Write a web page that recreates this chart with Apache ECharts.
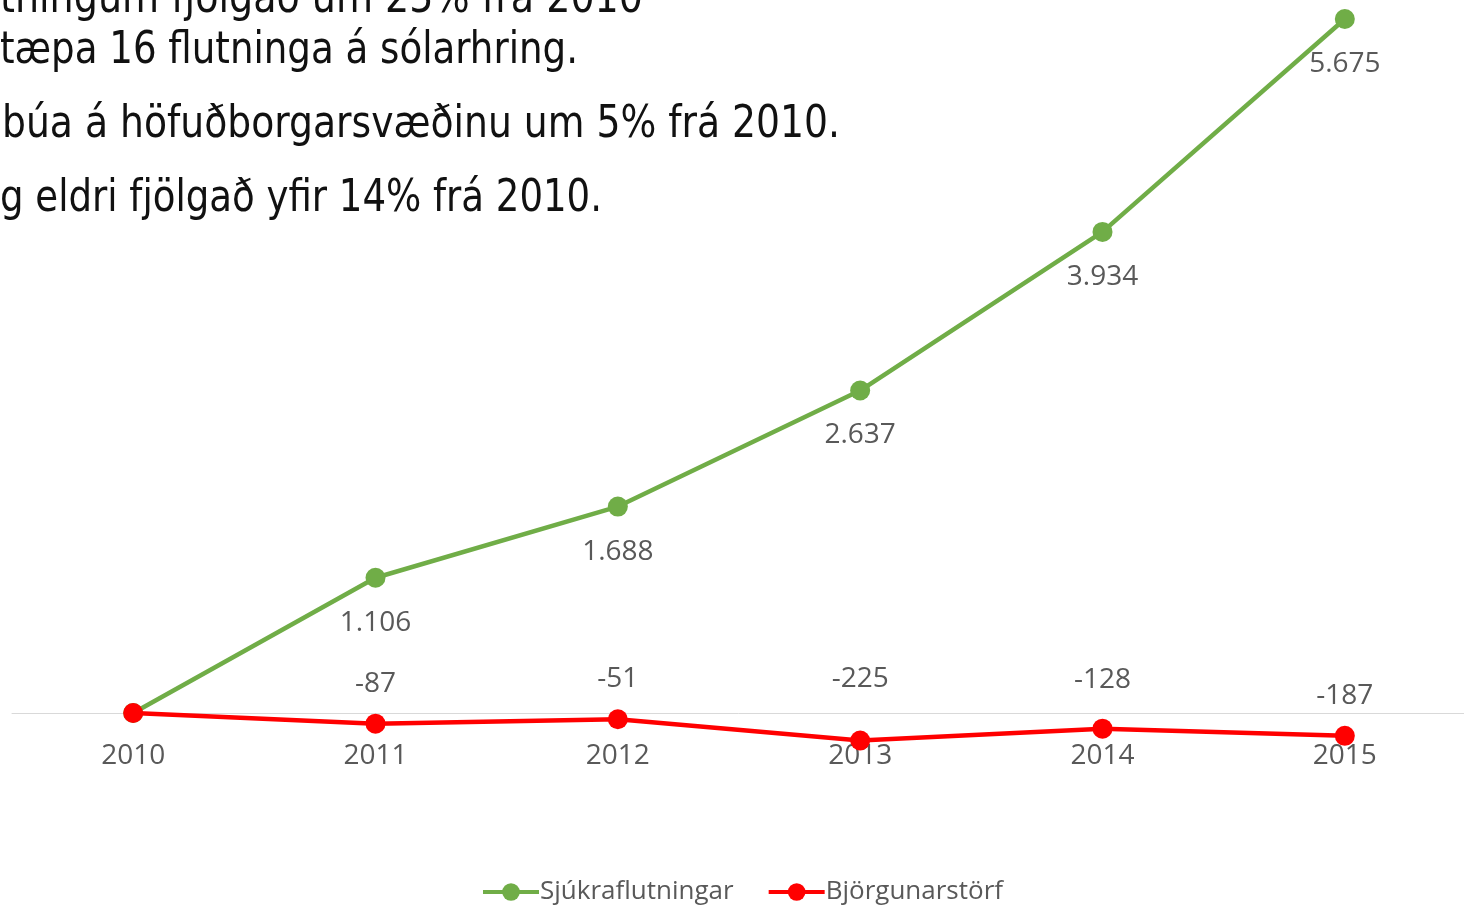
<!DOCTYPE html>
<html>
<head>
<meta charset="utf-8">
<script src="https://cdn.jsdelivr.net/npm/echarts@6/dist/echarts.min.js"></script>
<style>
  html, body { margin: 0; padding: 0; background: #fff; }
  #chart { width: 1464px; height: 906px; }
</style>
</head>
<body>
<div id="chart"></div>
<script>
const years = ['2010', '2011', '2012', '2013', '2014', '2015'];
const sjukraflutningar = [0, 1106, 1688, 2637, 3934, 5675];
const bjorgunarstorf = [0, -87, -51, -225, -128, -187];
const textLines = [
  'tningum fjölgað um 25% frá 2010',
  'tæpa 16 flutninga á sólarhring.',
  'búa á höfuðborgarsvæðinu um 5% frá 2010.',
  'g eldri fjölgað yfir 14% frá 2010.'
];

// thousands separator with a dot, like the original
const fmt = (v) => {
  const s = String(Math.abs(v)).replace(/\B(?=(\d{3})+(?!\d))/g, '.');
  return (v < 0 ? '-' : '') + s;
};

const labelFont = '"Open Sans", sans-serif';
const textFont = '"DejaVu Sans Condensed", "Liberation Sans Narrow", sans-serif';
const textSize = 44;
const textLeft = [0, 0, 2, 0];
const textRight = [643, 578, 840, 602];
const textMid = [1, 52, 126, 200];
// labels that were moved by hand in the original
const redNudge = { 3: -21, 4: -9 };

// squeeze the slide text to the width it has in the original
const ctx = document.createElement('canvas').getContext('2d');
ctx.font = textSize + 'px ' + textFont;
const textScale = textLines.map((t, i) => (textRight[i] - textLeft[i]) / ctx.measureText(t).width);

const chart = echarts.init(document.getElementById('chart'));
const option = {
  animation: false,
  backgroundColor: '#fff',
  grid: {
    left: 12,
    width: 1454,
    top: 3.7,
    height: 709.3,
    outerBoundsMode: 'none'
  },
  legend: {
    top: 874,
    left: 476,
    itemWidth: 56,
    itemHeight: 22,
    itemGap: 33,
    lineStyle: { width: 4 },
    textStyle: { color: '#595959', fontSize: 26, fontFamily: labelFont, padding: [0, 0, 0, -4] },
    data: ['Sjúkraflutningar', 'Björgunarstörf']
  },
  xAxis: {
    type: 'category',
    data: years,
    boundaryGap: true,
    axisLine: { lineStyle: { color: '#d9d9d9', width: 1 } },
    axisTick: { show: false },
    axisLabel: { color: '#595959', fontSize: 28, fontFamily: labelFont, margin: 29 }
  },
  yAxis: {
    type: 'value',
    min: 0,
    max: 5800,
    show: false
  },
  series: [
    {
      name: 'Sjúkraflutningar',
      type: 'line',
      clip: false,
      data: sjukraflutningar.map((v, i) => i === 0 ? { value: v, label: { show: false } } : v),
      symbol: 'circle',
      symbolSize: 20,
      lineStyle: { color: '#70ad47', width: 4.5 },
      itemStyle: { color: '#70ad47' },
      label: {
        show: true,
        position: 'bottom',
        distance: 21,
        color: '#595959',
        fontSize: 28,
        fontFamily: labelFont,
        formatter: (p) => fmt(p.value)
      },
      z: 2
    },
    {
      name: 'Björgunarstörf',
      type: 'line',
      clip: false,
      data: bjorgunarstorf.map((v, i) => {
        if (i === 0) return { value: v, label: { show: false } };
        if (redNudge[i]) return { value: v, label: { offset: [0, redNudge[i]] } };
        return v;
      }),
      symbol: 'circle',
      symbolSize: 20,
      lineStyle: { color: '#ff0000', width: 4.5 },
      itemStyle: { color: '#ff0000' },
      label: {
        show: true,
        position: 'top',
        distance: 16,
        color: '#595959',
        fontSize: 28,
        fontFamily: labelFont,
        formatter: (p) => fmt(p.value)
      },
      z: 3
    }
  ],
  graphic: textLines.map((t, i) => ({
    type: 'text',
    x: textLeft[i],
    y: textMid[i],
    scaleX: textScale[i],
    style: {
      text: t,
      fill: '#111',
      fontSize: textSize,
      fontFamily: textFont,
      verticalAlign: 'middle'
    }
  }))
};
chart.setOption(option);
</script>
</body>
</html>
